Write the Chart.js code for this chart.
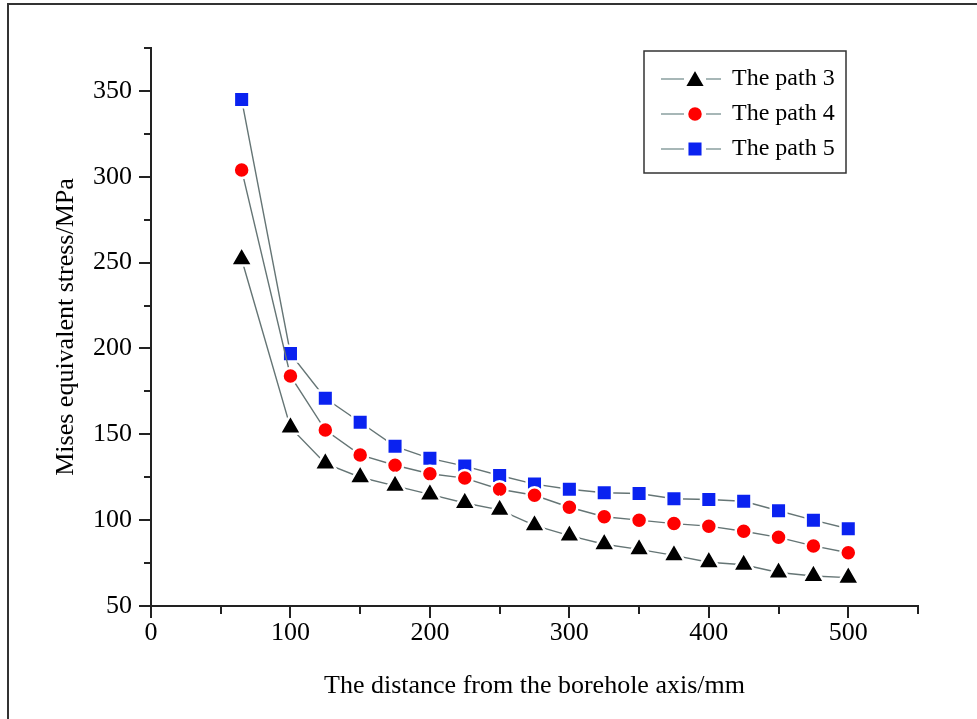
<!DOCTYPE html>
<html>
<head>
<meta charset="utf-8">
<script src="https://cdn.jsdelivr.net/npm/chart.js@4/dist/chart.umd.min.js"></script>
<style>
  html, body { margin: 0; padding: 0; background: #fff; }
  #wrap { width: 977px; height: 719px; }
</style>
</head>
<body>
<div id="wrap"><canvas id="c" width="977" height="719"></canvas></div>
<script>
// Distance from the borehole axis (mm)
const distances = [65, 100, 125, 150, 175, 200, 225, 250, 275, 300, 325, 350, 375, 400, 425, 450, 475, 500];

// Mises equivalent stress (MPa) along each path
const path3 = [252, 154, 133, 125, 120, 115, 110, 106, 97, 91, 86, 83, 79.5, 75.5, 74, 69.5, 67.5, 66.5];
const path4 = [304, 184, 152.5, 138, 132, 127, 124.5, 118, 114.5, 107.5, 102, 100, 98, 96.5, 93.5, 90, 85, 81];
const path5 = [345, 197, 171, 157, 143, 136, 131.5, 126, 121, 118, 116, 115.5, 112.5, 112, 111, 105.5, 100, 95];

const seriesLabels = ['The path 3', 'The path 4', 'The path 5'];

// Axis ticks
const xTickValues = [0, 100, 200, 300, 400, 500];
const yTickValues = [50, 100, 150, 200, 250, 300, 350];

const FONT = '"Liberation Serif", "Times New Roman", serif';
const LINE = '#657575';

function toPoints(ys) { return distances.map((x, i) => ({ x: x, y: ys[i] })); }

function series(label, ys, style, color, radius, halo) {
  return {
    label: label,
    data: toPoints(ys),
    borderColor: LINE,
    borderWidth: 1.4,
    pointStyle: style,
    pointRadius: radius,
    pointBackgroundColor: color,
    pointBorderColor: '#ffffff',
    pointBorderWidth: halo,
    tension: 0,
    fill: false
  };
}

// Frame around the figure
const framePlugin = {
  id: 'frame',
  beforeDraw(chart) {
    const ctx = chart.ctx;
    ctx.save();
    ctx.fillStyle = '#fff';
    ctx.fillRect(0, 0, chart.width, chart.height);
    ctx.strokeStyle = '#333';
    ctx.lineWidth = 2;
    ctx.strokeRect(8, 4, chart.width + 20, chart.height + 20);
    ctx.restore();
  }
};

// Major and minor tick marks, drawn outward
const tickPlugin = {
  id: 'outTicks',
  afterDraw(chart) {
    const ctx = chart.ctx;
    const xs = chart.scales.x, ys = chart.scales.y;
    const a = chart.chartArea;
    ctx.save();
    ctx.strokeStyle = '#222';
    ctx.lineWidth = 2;
    for (let v = xs.min; v <= xs.max + 1e-6; v += 50) {
      const px = Math.round(xs.getPixelForValue(v));
      const len = (v % 100 === 0) ? 12 : 8;
      ctx.beginPath();
      ctx.moveTo(px, a.bottom);
      ctx.lineTo(px, a.bottom + len);
      ctx.stroke();
    }
    for (let v = ys.min; v <= ys.max + 1e-6; v += 25) {
      const py = Math.round(ys.getPixelForValue(v));
      const len = (v % 50 === 0) ? 12 : 7;
      ctx.beginPath();
      ctx.moveTo(a.left, py);
      ctx.lineTo(a.left - len, py);
      ctx.stroke();
    }
    ctx.restore();
  }
};

// Boxed legend inside the plot area, line-symbol-line keys
const legendPlugin = {
  id: 'boxLegend',
  afterDraw(chart) {
    const ctx = chart.ctx;
    const a = chart.chartArea;
    const bx = a.right - 274, by = 51, bw = 202, bh = 122;
    ctx.save();
    ctx.strokeStyle = '#333';
    ctx.lineWidth = 1.5;
    ctx.strokeRect(bx, by, bw, bh);
    const drawPoint = Chart.helpers && Chart.helpers.drawPoint;
    chart.data.datasets.forEach((ds, i) => {
      const cy = by + 28 + i * 35;
      const mx = bx + 51;
      ctx.strokeStyle = '#a7b7b7';
      ctx.lineWidth = 2;
      ctx.beginPath();
      ctx.moveTo(bx + 17, cy); ctx.lineTo(mx - 11, cy);
      ctx.moveTo(mx + 11, cy); ctx.lineTo(bx + 77, cy);
      ctx.stroke();
      if (drawPoint) {
        ctx.fillStyle = ds.pointBackgroundColor;
        ctx.strokeStyle = '#ffffff';
        ctx.lineWidth = ds.pointBorderWidth;
        drawPoint(ctx, { pointStyle: ds.pointStyle, rotation: 0, radius: ds.pointRadius, borderWidth: ds.pointBorderWidth }, mx, cy + (ds.pointStyle === 'triangle' ? 2 : 0));
      }
      ctx.fillStyle = '#000';
      ctx.font = '24px ' + FONT;
      ctx.textBaseline = 'middle';
      ctx.textAlign = 'left';
      ctx.fillText(ds.label, bx + 88, cy);
    });
    ctx.restore();
  }
};

new Chart(document.getElementById('c'), {
  type: 'line',
  data: {
    datasets: [
      series(seriesLabels[0], path3, 'triangle', '#000000', 12.5, 2.5),
      series(seriesLabels[1], path4, 'circle', '#ff0000', 8, 2.5),
      series(seriesLabels[2], path5, 'rect', '#0a22f0', 11, 2.5)
    ]
  },
  plugins: [framePlugin, tickPlugin, legendPlugin],
  options: {
    responsive: false,
    animation: false,
    events: [],
    layout: { padding: { top: 48, right: 59, left: 0, bottom: 0 } },
    plugins: { legend: { display: false }, tooltip: { enabled: false } },
    scales: {
      x: {
        type: 'linear',
        min: 0,
        max: 550,
        afterFit(s) { s.height = 113; },
        afterBuildTicks(s) { s.ticks = xTickValues.concat([550]).map(v => ({ value: v })); },
        grid: { display: false, drawTicks: false },
        border: { display: true, color: '#222', width: 2 },
        ticks: {
          padding: 12,
          color: '#000',
          font: { family: FONT, size: 26 },
          maxRotation: 0,
          autoSkip: false,
          callback: v => xTickValues.includes(v) ? String(v) : ''
        },
        title: {
          display: true,
          text: 'The distance from the borehole axis/mm',
          color: '#000',
          font: { family: FONT, size: 26 },
          padding: { top: 0, bottom: 17 }
        }
      },
      y: {
        type: 'linear',
        min: 50,
        max: 375,
        afterFit(s) { s.width = 151; },
        afterBuildTicks(s) { s.ticks = yTickValues.concat([375]).map(v => ({ value: v })); },
        grid: { display: false, drawTicks: false },
        border: { display: true, color: '#222', width: 2 },
        ticks: {
          padding: 19,
          color: '#000',
          font: { family: FONT, size: 26 },
          autoSkip: false,
          callback: v => yTickValues.includes(v) ? String(v) : ''
        },
        title: {
          display: true,
          text: 'Mises equivalent stress/MPa',
          color: '#000',
          font: { family: FONT, size: 26 },
          padding: { top: 51, bottom: 0 }
        }
      }
    }
  }
});
</script>
</body>
</html>
